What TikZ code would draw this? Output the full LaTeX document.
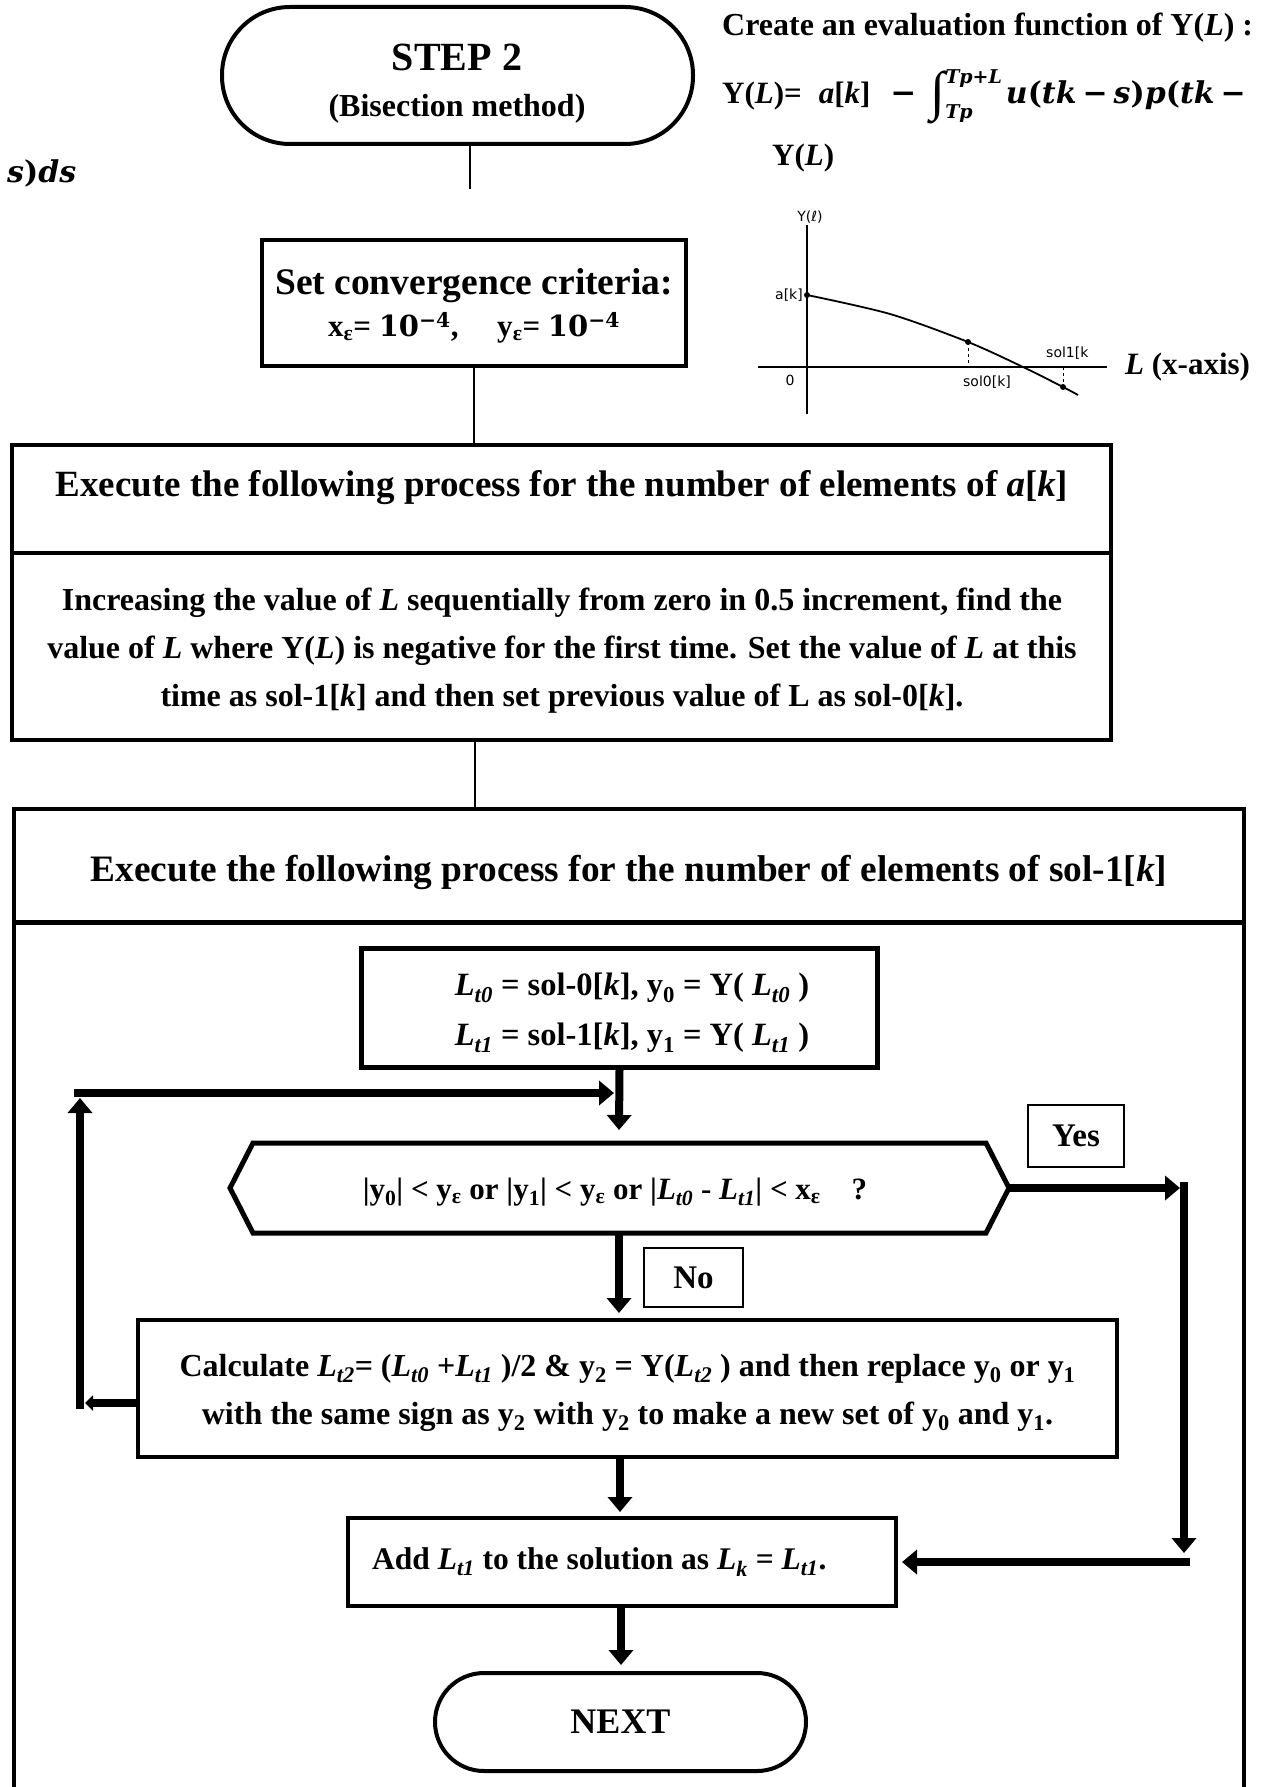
\documentclass[tikz,border=0pt]{standalone}
\usepackage{fontspec}
\setmainfont{Liberation Serif}
\newfontfamily\handfont{DejaVu Sans}
\newfontfamily\cmb{DejaVu Serif}
\usetikzlibrary{arrows.meta}
\newcommand\fsz[2]{\fontsize{#1}{#2}\selectfont}
\newcommand\sbs[1]{\textsubscript{#1}}
\newcommand\mi[1]{{\itshape #1}}
\newcommand\myint{\raisebox{-0.2em}{\fsz{54}{54}∫}\rlap{\raisebox{-0.5em}{\cmb\fsz{19}{19}\mi{Tp}}}\raisebox{0.62em}{\cmb\fsz{19}{19}\mi{Tp}+\mi{L}}}
\newcommand\tenm{{\cmb\fsz{29}{40}10\textsuperscript{−4}}}
\begin{document}
\begin{tikzpicture}[x=1pt,y=-1pt,
  every node/.style={font=\bfseries, inner sep=0pt},
  box/.style={draw, line width=4pt},
  conn/.style={line width=1.6pt},
  flow/.style={line width=8pt, -{Triangle[width=24pt,length=15pt]}},
  flowsmall/.style={line width=8pt, -{Triangle[width=15pt,length=8pt]}},
  tag/.style={draw, line width=2pt},
  hand/.style={font=\handfont\fsz{14}{16}},
]
\fill[white] (0,0) rectangle (1267,1787);
\useasboundingbox (0,0) rectangle (1267,1787);

% ---------- top ----------
\node[box, minimum width=471pt, minimum height=137pt, rounded corners=68pt] (step) at (457.5,75.5) {};
\node[font=\bfseries\fsz{40}{44}] (stepA) at (457,57) {STEP 2};
\node[font=\bfseries\fsz{32}{38}] (stepB) at (457,109) {(Bisection method)};

\node[anchor=west, font=\bfseries\fsz{32}{38}] (ttl) at (722,28) {Create an evaluation function of Y(\textit{L}) :};
\node[anchor=west, font=\bfseries\fsz{31}{38}] (fml) at (722,97)
  {Y(\textit{L})=\hspace{17pt}\textit{a}[\textit{k}]\hspace{20pt}{\cmb −}\hspace{14pt}\myint\hspace{4pt}{\cmb\fsz{30}{38}\mi{u}(\mi{tk}\hspace{6pt}−\hspace{6pt}\mi{s})\mi{p}(\mi{tk}\hspace{6pt}−}};
\node[anchor=west, font=\bfseries\fsz{30}{38}] (fmlb) at (7,173) {\cmb\mi{s})\mi{ds}};
\node[anchor=west, font=\bfseries\fsz{31}{38}] (yl) at (772,158) {Y(\textit{L})};

% ---------- graph ----------
\draw[line width=2pt] (807,225) -- (807,414);
\draw[line width=1.5pt] (758,367) -- (1107,367);
\draw[line width=1.8pt] plot[smooth] coordinates {(807,295) (890,314) (968,342) (1023,367) (1063,387) (1078,395)};
\fill (807,295) circle (3pt);
\fill (968,342) circle (3pt);
\fill (1063,387) circle (3pt);
\draw[dashed, line width=1pt] (968,342) -- (968,367);
\draw[dashed, line width=1pt] (1063,367) -- (1063,387);
\node[hand] (gy) at (810,217) {Y(ℓ)};
\node[hand, anchor=east] (ga) at (803,295) {a[k]};
\node[hand] (g0) at (790,380) {0};
\node[hand] (gs0) at (987,382) {sol0[k]};
\node[hand, anchor=west] (gs1) at (1046,353) {sol1[k};
\node[anchor=west, font=\bfseries\fsz{31}{38}] (xax) at (1125,367) {\textit{L} (x-axis)};

% ---------- set criteria ----------
\node[box, minimum width=424pt, minimum height=126pt] (set) at (474,303) {};
\node[font=\bfseries\fsz{37.5}{44}] (setA) at (474,286) {Set convergence criteria:};
\node[font=\bfseries\fsz{31}{38}] (setB) at (474,328) {x\sbs{ε}=\ \tenm,\quad\ y\sbs{ε}=\ \tenm};
\draw[conn] ([xshift=12.5pt]step.south) -- ++(0,43);

% ---------- execute a[k] ----------
\node[box, minimum width=1099pt, minimum height=108pt] (exh) at (561.5,499) {};
\node[font=\bfseries\fsz{37}{44}] (exhT) at (562,488)
  {Execute the following process for the number of elements of \textit{a}[\textit{k}]};
\node[box, minimum width=1099pt, minimum height=187pt] (exb) at (561.5,646.5) {};
\node[font=\bfseries\fsz{32}{48}, align=center] (exbT) at (562,651)
  {Increasing the value of \textit{L} sequentially from zero in 0.5 increment, find the\\
   value of \textit{L} where Y(\textit{L}) is negative for the first time. Set the value of \textit{L} at this\\
   time as sol-1[\textit{k}] and then set previous value of L as sol-0[\textit{k}].};
\draw[conn] (set.south) -- (set.south |- exh.north);

% ---------- big loop box ----------
\coordinate (bbTop) at (475,809);
\draw[line width=4pt] (14,1790) -- (14,809) -- (1244,809) -- (1244,1790);
\draw[line width=5pt] (14,922) -- (1244,922);
\node[font=\bfseries\fsz{37.3}{44}] (bbh) at (629,872) {Execute the following process for the number of elements of sol-1[\textit{k}]};
\draw[conn] (exb.south -| bbTop) -- (bbTop);

% ---------- init ----------
\node[box, line width=5pt, minimum width=516pt, minimum height=119pt] (init) at (619.5,1007.5) {};
\node[font=\bfseries\fsz{32.5}{50}, align=center] (initT) at (632,1013)
  {\textit{L\sbs{t0}} = sol-0[\textit{k}], y\sbs{0} = Y( \textit{L\sbs{t0}} )\\
   \textit{L\sbs{t1}} = sol-1[\textit{k}], y\sbs{1} = Y( \textit{L\sbs{t1}} )};

% ---------- decision ----------
\coordinate (decL) at (230,1188);
\coordinate (decR) at (1009,1188);
\coordinate (decT) at (619,1143);
\coordinate (decB) at (619,1233);
\draw[line width=5pt, line join=miter] (decL) -- (253,1143) -- (986,1143) -- (decR) -- (986,1233) -- (253,1233) -- cycle;
\node[font=\bfseries\fsz{31}{37}] (dec) at (615,1192)
  {|y\sbs{0}| < y\sbs{ε} or |y\sbs{1}| < y\sbs{ε} or |\textit{L\sbs{t0}} - \textit{L\sbs{t1}}| < x\sbs{ε}\quad ?};

\node[tag, minimum width=96pt, minimum height=62pt, font=\bfseries\fsz{33}{40}] (yes) at (1076,1136) {Yes};
\node[tag, minimum width=99pt, minimum height=59pt, font=\bfseries\fsz{33}{40}] (no) at (693.5,1277.5) {No};

% ---------- calc ----------
\node[box, minimum width=979pt, minimum height=137pt] (calc) at (627.5,1388.5) {};
\node[font=\bfseries\fsz{32}{48}, align=center] (calcT) at (627.5,1393)
  {Calculate \textit{L\sbs{t2}}= (\textit{L\sbs{t0}} +\textit{L\sbs{t1}} )/2 \& y\sbs{2} = Y(\textit{L\sbs{t2}} ) and then replace y\sbs{0} or y\sbs{1}\\
   with the same sign as y\sbs{2} with y\sbs{2} to make a new set of y\sbs{0} and y\sbs{1}.};

% ---------- add ----------
\node[box, minimum width=548pt, minimum height=88pt] (add) at (622,1562) {};
\node[anchor=west, font=\bfseries\fsz{31.5}{38}] (addT) at (372,1562)
  {Add \textit{L\sbs{t1}} to the solution as \textit{L\sbs{k}} = \textit{L\sbs{t1}}.};

% ---------- next ----------
\node[box, minimum width=371pt, minimum height=98pt, rounded corners=49pt, font=\bfseries\fsz{36}{43}] (next) at (620.5,1722) {NEXT};

% ---------- flow arrows ----------
\coordinate (t1) at (619,1130);
\draw[flow] (init.south) -- (t1);
\coordinate (lp1) at (138,1403);
\coordinate (lp2) at (85,1403);
\coordinate (lp3) at (80,1409);
\coordinate (lp4) at (80,1098);
\coordinate (lp5) at (74,1093);
\coordinate (lp6) at (614,1093);
\draw[flowsmall] (lp1) -- (lp2);
\draw[flow] (lp3) -- (lp4);
\draw[flow] (lp5) -- (lp6);
\coordinate (t2) at (619,1313);
\draw[flow] (decB) -- (t2);
\coordinate (t3) at (620,1512);
\draw[flow] (calc.south -| t3) -- (t3);
\coordinate (t4) at (621,1665);
\draw[flow] (add.south -| t4) -- (t4);
\coordinate (y1) at (1180,1188);
\coordinate (y2) at (1184,1182);
\coordinate (y3) at (1184,1553);
\coordinate (y4) at (1190,1562);
\coordinate (y5) at (902,1562);
\draw[flow] (decR) -- (y1);
\draw[flow] (y2) -- (y3);
\draw[flow] (y4) -- (y5);
\end{tikzpicture}
\end{document}
